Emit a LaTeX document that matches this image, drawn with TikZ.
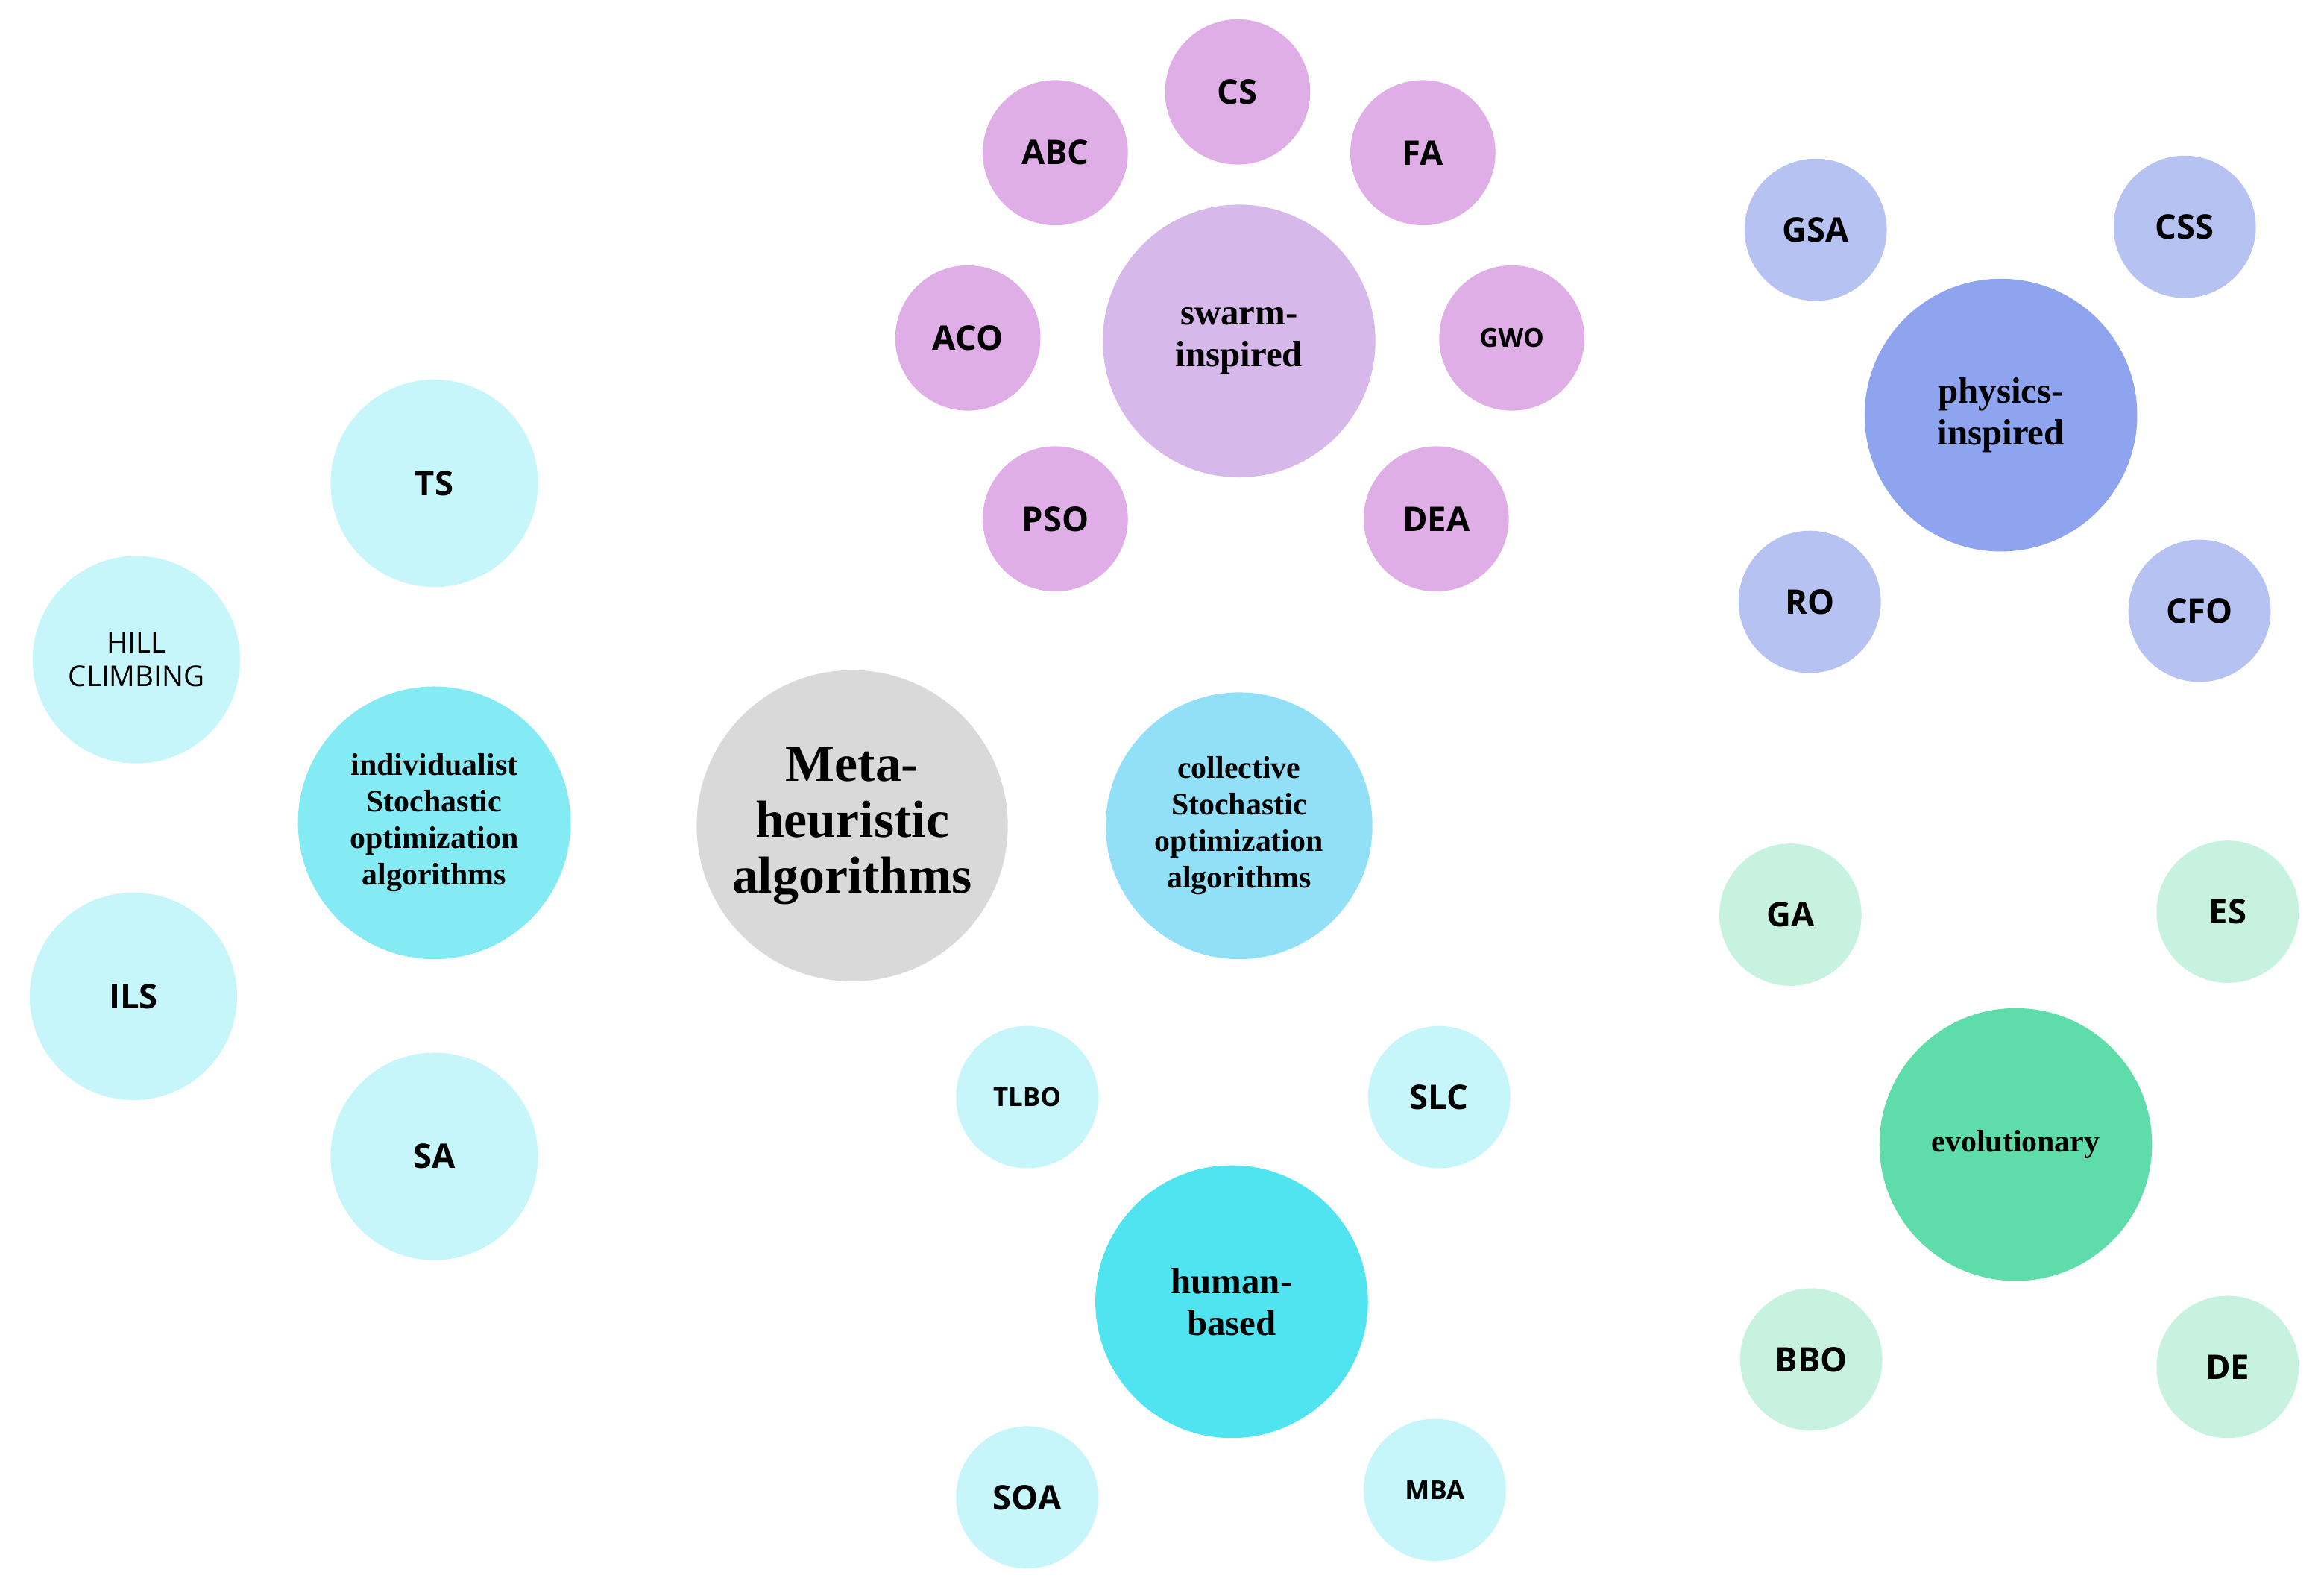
\documentclass[tikz,border=0pt]{standalone}
\usepackage{fontspec}
\setmainfont{Liberation Serif}
\newfontfamily\satf{Open Sans}
\usetikzlibrary{backgrounds}
\definecolor{gmeta}{HTML}{D9D9D9}
\definecolor{cind}{HTML}{84EAF3}
\definecolor{clt}{HTML}{C6F6FA}
\definecolor{ccol}{HTML}{92E0F8}
\definecolor{cswarm}{HTML}{D6B8EA}
\definecolor{cpink}{HTML}{E0AEE6}
\definecolor{cphys}{HTML}{8FA4EE}
\definecolor{cphl}{HTML}{B5C2F2}
\definecolor{cevo}{HTML}{5EDDAA}
\definecolor{cevl}{HTML}{C8F2E0}
\definecolor{chum}{HTML}{50E4F0}
\definecolor{eline}{HTML}{3FB0B5}
\definecolor{pline}{HTML}{B070C0}
\begin{document}
\begin{tikzpicture}[x=0.02cm,y=-0.02cm,
 hub/.style={circle,minimum size=#1*0.04cm,inner sep=0pt,align=center,font=\bfseries\fontsize{12}{14}\selectfont},
 sat/.style={circle,minimum size=#1*0.04cm,inner sep=0pt,align=center,font=\satf\bfseries\fontsize{13}{15}\selectfont},
 e/.style={eline,line width=0.6pt},
 pe/.style={pline,line width=0.6pt}]
\useasboundingbox[fill=white] (0,0) rectangle (1568,1072);
\node[hub=105,fill=gmeta,font=\bfseries\fontsize{20}{21.5}\selectfont] (meta) at (575,557) {Meta-\\heuristic\\algorithms};
\node[hub=92,fill=cind] (ind) at (293,555) {individualist\\Stochastic\\optimization\\algorithms};
\node[sat=70,fill=clt] (ts) at (293,326) {TS};
\node[sat=70,fill=clt,font=\satf\fontsize{11}{13}\selectfont] (hc) at (92,445) {HILL\\CLIMBING};
\node[sat=70,fill=clt] (ils) at (90,672) {ILS};
\node[sat=70,fill=clt] (sa) at (293,780) {SA};
\node[hub=90,fill=ccol] (col) at (836,557) {collective\\Stochastic\\optimization\\algorithms};
\node[hub=92,fill=cswarm,font=\bfseries\fontsize{14}{16}\selectfont] (sw) at (836,230) {swarm-\\inspired};
\node[sat=49,fill=cpink] (cs) at (835,62) {CS};
\node[sat=49,fill=cpink] (abc) at (712,103) {ABC};
\node[sat=49,fill=cpink] (fa) at (960,103) {FA};
\node[sat=49,fill=cpink] (aco) at (653,228) {ACO};
\node[sat=49,fill=cpink,font=\satf\bfseries\fontsize{10}{12}\selectfont] (gwo) at (1020,228) {GWO};
\node[sat=49,fill=cpink] (pso) at (712,350) {PSO};
\node[sat=49,fill=cpink] (dea) at (969,350) {DEA};
\node[hub=92,fill=cphys,font=\bfseries\fontsize{14}{16}\selectfont] (ph) at (1350,280) {physics-\\inspired};
\node[sat=48,fill=cphl] (gsa) at (1225,155) {GSA};
\node[sat=48,fill=cphl] (css) at (1474,153) {CSS};
\node[sat=48,fill=cphl] (ro) at (1221,406) {RO};
\node[sat=48,fill=cphl] (cfo) at (1484,412) {CFO};
\node[hub=92,fill=cevo] (ev) at (1360,772) {evolutionary};
\node[sat=48,fill=cevl] (ga) at (1208,617) {GA};
\node[sat=48,fill=cevl] (es) at (1503,615) {ES};
\node[sat=48,fill=cevl] (bbo) at (1222,917) {BBO};
\node[sat=48,fill=cevl] (de) at (1503,922) {DE};
\node[hub=92,fill=chum,font=\bfseries\fontsize{14}{16}\selectfont] (hu) at (831,878) {human-\\based};
\node[sat=48,fill=clt,font=\satf\bfseries\fontsize{10}{12}\selectfont] (tlbo) at (693,740) {TLBO};
\node[sat=48,fill=clt] (slc) at (971,740) {SLC};
\node[sat=48,fill=clt] (soa) at (693,1010) {SOA};
\node[sat=48,fill=clt,font=\satf\bfseries\fontsize{10}{12}\selectfont] (mba) at (968,1005) {MBA};
\begin{pgfonlayer}{background}
\foreach \a/\b in {meta/ind,meta/col,ind/ts,ind/hc,ind/ils,ind/sa,col/sw,col/ph,col/ev,col/hu,ph/gsa,ph/css,ph/ro,ph/cfo,ev/ga,ev/es,ev/bbo,ev/de,hu/tlbo,hu/slc,hu/soa,hu/mba}
  \draw[e] (\a.center) -- (\b.center);
\foreach \b in {cs,abc,fa,aco,gwo,pso,dea}
  \draw[pe] (sw.center) -- (\b.center);
\end{pgfonlayer}
\end{tikzpicture}
\end{document}
